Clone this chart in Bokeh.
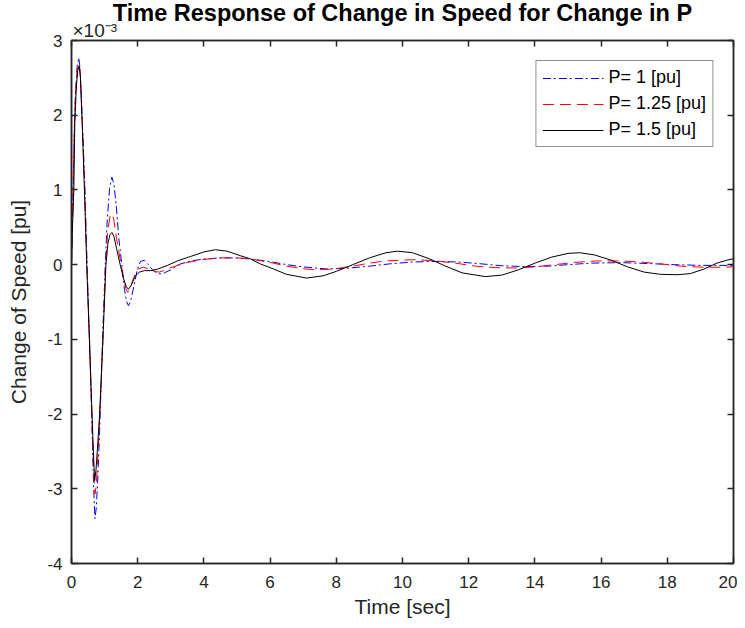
from bokeh.plotting import figure
from bokeh.models import Range1d, FixedTicker, LinearAxis, Legend, LegendItem, Title
from bokeh.embed import file_html
from bokeh.resources import INLINE

# ---- data (values in units of 1e-3 pu) ----
t_p1 = [0, 0.04, 0.08, 0.12, 0.17, 0.22, 0.26, 0.32, 0.40, 0.47, 0.55, 0.62, 0.67, 0.71,
        0.75, 0.80, 0.86, 0.93, 1.02, 1.08, 1.15, 1.22, 1.28, 1.35, 1.43, 1.52, 1.60, 1.66,
        1.72, 1.78, 1.88, 1.98, 2.08, 2.20, 2.32, 2.45, 2.60, 2.73, 2.85, 3.0, 3.23, 3.6,
        4.0, 4.5, 5.0, 5.41, 6.0, 6.5, 7.0, 7.7, 8.3, 9.0, 9.6, 10.3, 11.0, 11.7, 12.4,
        13.0, 13.7, 14.4, 15.0, 15.7, 16.6, 17.4, 18.2, 19.0, 20.0]
y_p1 = [0, 0.8, 1.7, 2.3, 2.65, 2.77, 2.62, 2.0, 1.1, 0.0, -1.1, -2.2, -3.0, -3.40,
        -3.25, -2.8, -2.1, -1.1, 0.0, 0.6, 1.02, 1.17, 1.08, 0.8, 0.35, 0.0, -0.33, -0.49,
        -0.55, -0.50, -0.30, -0.08, 0.04, 0.06, 0.0, -0.07, -0.12, -0.125, -0.10, -0.07, 0.0, 0.05,
        0.075, 0.09, 0.09, 0.076, 0.04, 0.0, -0.03, -0.058, -0.05, -0.02, 0.01, 0.035, 0.044, 0.035, 0.01,
        -0.015, -0.027, -0.02, 0.0, 0.02, 0.027, 0.015, 0.0, -0.01, -0.01]

t_p125 = [0, 0.04, 0.08, 0.12, 0.17, 0.23, 0.27, 0.33, 0.40, 0.465, 0.55, 0.62, 0.67, 0.71,
          0.75, 0.80, 0.86, 0.95, 1.03, 1.09, 1.16, 1.22, 1.28, 1.36, 1.50, 1.58, 1.64, 1.70,
          1.77, 1.88, 2.0, 2.17, 2.35, 2.5, 2.65, 2.85, 3.0, 3.5, 4.0, 4.5, 5.0, 5.41, 6.0,
          6.5, 7.0, 7.4, 7.9, 8.5, 9.0, 9.5, 10.4, 11.0, 11.6, 12.2, 12.8, 13.4, 14.0, 14.6,
          15.2, 15.8, 16.5, 17.2, 17.8, 18.4, 19.1, 19.6, 20.0]
y_p125 = [0, 0.85, 1.75, 2.3, 2.6, 2.70, 2.55, 1.85, 1.0, 0.0, -1.05, -2.1, -2.8, -3.07,
          -2.95, -2.55, -1.95, -1.0, 0.0, 0.42, 0.64, 0.68, 0.60, 0.35, 0.0, -0.2, -0.32, -0.37,
          -0.32, -0.17, -0.06, -0.035, -0.06, -0.09, -0.10, -0.07, -0.04, 0.03, 0.07, 0.09, 0.09, 0.076, 0.03,
          -0.02, -0.055, -0.07, -0.06, -0.02, 0.02, 0.05, 0.067, 0.05, 0.02, -0.02, -0.04, -0.045, -0.03, 0.0,
          0.03, 0.048, 0.05, 0.035, 0.01, -0.02, -0.035, -0.035, -0.03]

t_p15 = [0, 0.03, 0.07, 0.10, 0.15, 0.19, 0.23, 0.27, 0.33, 0.39, 0.46, 0.54, 0.62, 0.67,
         0.70, 0.74, 0.80, 0.85, 0.95, 1.04, 1.10, 1.16, 1.22, 1.28, 1.36, 1.47, 1.57, 1.65,
         1.72, 1.80, 1.93, 2.05, 2.2, 2.4, 2.6, 2.9, 3.2, 3.6, 4.0, 4.35, 4.7, 5.1, 5.41,
         5.7, 6.0, 6.5, 7.1, 7.6, 8.0, 8.5, 9.0, 9.5, 9.85, 10.3, 10.8, 11.3, 11.8, 12.5,
         13.0, 13.5, 14.0, 14.5, 15.0, 15.35, 15.8, 16.3, 16.8, 17.3, 17.8, 18.3, 18.7,
         19.1, 19.5, 19.8, 20.0]
y_p15 = [0, 0.5, 1.0, 1.9, 2.4, 2.6, 2.66, 2.5, 1.8, 1.0, 0.0, -1.0, -2.0, -2.6,
         -2.89, -2.75, -2.35, -2.0, -1.0, 0.0, 0.28, 0.40, 0.43, 0.38, 0.22, 0.0, -0.18, -0.29,
         -0.33, -0.28, -0.15, -0.10, -0.08, -0.08, -0.06, -0.01, 0.05, 0.11, 0.17, 0.20, 0.18, 0.12, 0.076,
         0.01, -0.04, -0.13, -0.18, -0.15, -0.09, 0.0, 0.09, 0.16, 0.18, 0.16, 0.08, -0.02, -0.11, -0.16,
         -0.14, -0.07, 0.02, 0.10, 0.15, 0.16, 0.13, 0.06, -0.03, -0.10, -0.13, -0.135, -0.12,
         -0.06, 0.02, 0.06, 0.08]

x_ticks = [0, 2, 4, 6, 8, 10, 12, 14, 16, 18, 20]
y_ticks = [-4, -3, -2, -1, 0, 1, 2, 3]
labels = ["P= 1 [pu]", "P= 1.25 [pu]", "P= 1.5 [pu]"]

FONT = "Liberation Sans"
AX = "#262626"

p = figure(width=737, height=620, output_backend="svg", toolbar_location=None,
           x_range=Range1d(0, 20), y_range=Range1d(-4, 3), title=None,
           min_border_left=71, min_border_right=4, min_border_top=40, min_border_bottom=57,
           x_axis_label="Time [sec]", y_axis_label="Change of Speed [pu]")

p.xgrid.visible = False
p.ygrid.visible = False
p.outline_line_color = AX
p.outline_line_width = 1.5
p.background_fill_color = "white"
p.border_fill_color = "white"

for ax, ticks in ((p.xaxis[0], x_ticks), (p.yaxis[0], y_ticks)):
    ax.ticker = FixedTicker(ticks=ticks)
    ax.major_label_overrides = {v: str(v) for v in ticks}
    ax.major_tick_in = 6
    ax.major_tick_out = 0
    ax.minor_tick_in = 0
    ax.minor_tick_out = 0
    ax.axis_line_color = AX
    ax.axis_line_width = 1.5
    ax.major_tick_line_color = AX
    ax.major_tick_line_width = 1.5
    ax.major_label_text_font = FONT
    ax.major_label_text_font_size = "17px"
    ax.major_label_text_color = AX
    ax.axis_label_text_font = FONT
    ax.axis_label_text_font_size = "21px"
    ax.axis_label_text_font_style = "normal"
    ax.axis_label_text_color = AX

p.xaxis[0].major_label_standoff = 12
p.xaxis[0].axis_label_standoff = 4
p.yaxis[0].major_label_standoff = 9
p.yaxis[0].axis_label_standoff = 14

# box axes (ticks only) on right and top, added before the titles so they hug the frame
for loc, ticks in (("right", y_ticks), ("above", x_ticks)):
    a = LinearAxis(ticker=FixedTicker(ticks=ticks))
    a.major_tick_in = 6
    a.major_tick_out = 0
    a.minor_tick_in = 0
    a.minor_tick_out = 0
    a.axis_line_color = AX
    a.axis_line_width = 1.5
    a.major_tick_line_color = AX
    a.major_tick_line_width = 1.5
    a.major_label_text_font_size = "0px"
    a.major_label_text_color = None
    a.major_label_standoff = 0
    p.add_layout(a, loc)

exp_title = Title(text="\u00d710\u207b\u00b3", align="left", text_font=FONT,
                  text_font_size="19px", text_font_style="normal", text_color=AX,
                  standoff=0, offset=1)
main_title = Title(text="Time Response of Change in Speed for Change in P", align="center",
                   text_font=FONT, text_font_size="23.5px", text_font_style="bold",
                   text_color="black", standoff=-17)
p.add_layout(exp_title, "above")
p.add_layout(main_title, "above")

r1 = p.line(t_p1, y_p1, line_color="#0000FF", line_width=1, line_dash="8 3 2 3")
r2 = p.line(t_p125, y_p125, line_color="#FF0000", line_width=1, line_dash="11 6")
r3 = p.line(t_p15, y_p15, line_color="#000000", line_width=1)

legend = Legend(items=[LegendItem(label=labels[0], renderers=[r1]),
                       LegendItem(label=labels[1], renderers=[r2]),
                       LegendItem(label=labels[2], renderers=[r3])],
                location="top_right")
legend.margin = 20
legend.padding = 6
legend.spacing = 5
legend.glyph_width = 61
legend.glyph_height = 20
legend.label_height = 20
legend.label_standoff = 5
legend.label_text_font = FONT
legend.label_text_font_size = "18px"
legend.label_text_color = "black"
legend.border_line_color = AX
legend.border_line_width = 1
legend.background_fill_alpha = 1
p.add_layout(legend, "center")

open("out.html", "w").write(file_html(p, INLINE))
